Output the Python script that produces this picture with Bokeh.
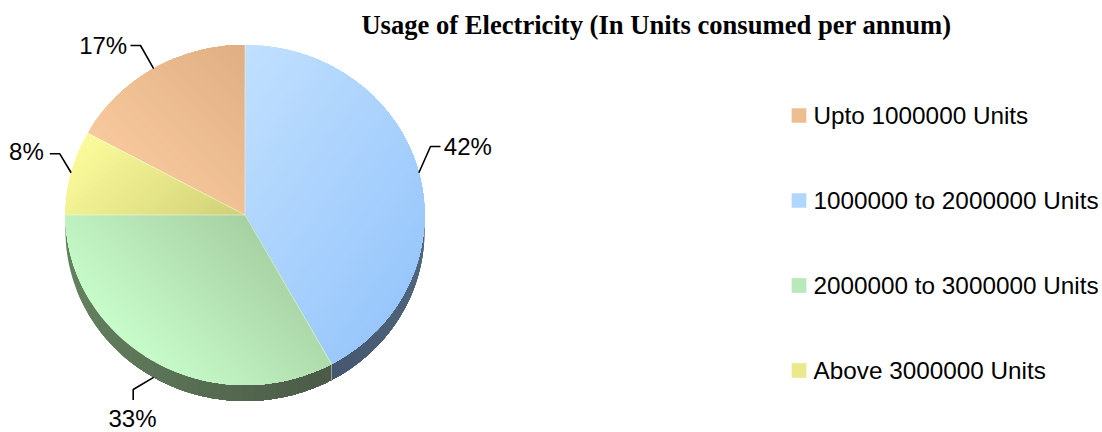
import math
from bokeh.plotting import figure
from bokeh.models import Range1d, ColumnDataSource
from bokeh.embed import file_html
from bokeh.resources import INLINE
from bokeh.core.properties import value

# ---------------- data ----------------
categories = ["Upto 1000000 Units", "1000000 to 2000000 Units",
              "2000000 to 3000000 Units", "Above 3000000 Units"]
shares = [17, 42, 33, 8]
share_labels = ["17%", "42%", "33%", "8%"]
title_text = "Usage of Electricity (In Units consumed per annum)"

# ---------------- style / layout ----------------
light_colors = ["#F8C99D", "#C0E0FE", "#C8FCCB", "#FCFC9C"]
dark_colors = ["#DFAF83", "#99C7FC", "#A6D0A2", "#D0CF76"]
legend_colors = ["#EDBE92", "#B0D6FD", "#B9E8BA", "#EAEA8C"]
rim_light = ["#8A7558", "#53687F", "#64815F", "#85854F"]
rim_dark = ["#6A583E", "#44576F", "#4A5A47", "#65653A"]
grad_dirs = [(1.0, -1.0), (1.0, 0.7), (1.0, -1.0), (1.0, 1.0)]   # screen dirs light -> dark
rim_dirs = [(1.0, 0.0), (-1.0, 0.6), (1.0, 0.0), (1.0, 0.0)]

CX, CY, RX, RY, DEPTH = 244.5, 214.5, 179.5, 170.0, 16.0
FIRST_SLICE_ANGLE = 298.8          # degrees, clockwise from 12 o'clock (Excel style)

TEXT_DY = -8.5                     # baseline correction for the renderer
FONT = "Liberation Sans"
LABEL_POS = [(126.7, 53.3, "right"), (443.3, 154.3, "left"),
             (132.0, 426.5, "center"), (43.3, 159.5, "right")]
LEADER_BEND = [((140.0, 45.0), (130.0, 45.0)), ((430.0, 146.0), (440.0, 146.0)),
               ((132.7, 389.0), (132.7, 399.5)), ((59.3, 153.3), (49.3, 153.3))]
LEGEND_X, LEGEND_Y0, LEGEND_STEP, LEGEND_BOX = 798.5, 115.0, 85.0, 14.7

W, H = 1102, 432


def hex2rgb(h):
    h = h.lstrip("#")
    return tuple(int(h[i:i + 2], 16) for i in (0, 2, 4))


def lerp_color(a, b, t):
    ca, cb = hex2rgb(a), hex2rgb(b)
    return "#%02x%02x%02x" % tuple(int(round(ca[i] + (cb[i] - ca[i]) * t)) for i in range(3))


def ept(t, dy=0.0):
    return (CX + RX * math.cos(t), CY - RY * math.sin(t) + dy)


def clip_half(poly, g, c):
    out = []
    n = len(poly)
    for i in range(n):
        P, Q = poly[i], poly[(i + 1) % n]
        dp = P[0] * g[0] + P[1] * g[1] - c
        dq = Q[0] * g[0] + Q[1] * g[1] - c
        if dp >= 0:
            out.append(P)
        if (dp >= 0) != (dq >= 0):
            t = dp / (dp - dq)
            out.append((P[0] + t * (Q[0] - P[0]), P[1] + t * (Q[1] - P[1])))
    return out


def gradient_bands(poly, g, c_light, c_dark, n=36):
    gl = math.hypot(*g)
    g = (g[0] / gl, g[1] / gl)
    proj = [x * g[0] + y * g[1] for x, y in poly]
    s0, s1 = min(proj), max(proj)
    xs, ys, cs = [], [], []
    for i in range(n):
        c = s0 + (s1 - s0) * i / n
        part = clip_half(poly, g, c) if i > 0 else poly
        if len(part) < 3:
            continue
        xs.append([q[0] for q in part])
        ys.append([q[1] for q in part])
        cs.append(lerp_color(c_light, c_dark, (i + 0.5) / n))
    return xs, ys, cs


total = float(sum(shares))
fracs = [v / total for v in shares]
start0 = math.pi / 2 - math.radians(FIRST_SLICE_ANGLE)
bounds = []
s = start0
for f in fracs:
    e = s - 2 * math.pi * f
    bounds.append((s, e))
    s = e

p = figure(width=W, height=H, x_range=Range1d(0, W), y_range=Range1d(H, 0),
           toolbar_location=None, output_backend="svg", min_border=0,
           x_axis_type=None, y_axis_type=None, outline_line_color=None,
           background_fill_color="white", border_fill_color="white")
for gr in p.grid:
    gr.visible = False

# ---- side wall (3D rim) on front half ----
rim_x, rim_y, rim_c = [], [], []
rim_sep_x, rim_sep_y = [], []
for i, (s, e) in enumerate(bounds):
    for k in (-2, -1, 0, 1):
        lo = max(e, -math.pi + 2 * math.pi * k)
        hi = min(s, 2 * math.pi * k)
        if hi - lo > 1e-6:
            n = max(6, int((hi - lo) * 60))
            top = [ept(hi - (hi - lo) * j / n) for j in range(n + 1)]
            bot = [ept(hi - (hi - lo) * j / n, DEPTH) for j in range(n + 1)][::-1]
            xs, ys, cs = gradient_bands(top + bot, rim_dirs[i], rim_light[i], rim_dark[i], 24)
            rim_x += xs
            rim_y += ys
            rim_c += cs
    # boundary edge on the rim
    if math.sin(e) < -1e-6:
        x0, y0 = ept(e)
        rim_sep_x.append([x0, x0])
        rim_sep_y.append([y0, y0 + DEPTH])
p.patches(xs="xs", ys="ys", fill_color="c", line_color=None,
          source=ColumnDataSource(dict(xs=rim_x, ys=rim_y, c=rim_c)))
p.multi_line(rim_sep_x, rim_sep_y, line_color="#9AA890", line_width=1.0)

# ---- top faces with gradients ----
top_x, top_y, top_c = [], [], []
for i, (s, e) in enumerate(bounds):
    n = max(8, int((s - e) * 80))
    poly = [(CX, CY)] + [ept(s - (s - e) * j / n) for j in range(n + 1)]
    xs, ys, cs = gradient_bands(poly, grad_dirs[i], light_colors[i], dark_colors[i], 40)
    top_x += xs
    top_y += ys
    top_c += cs
p.patches(xs="xs", ys="ys", fill_color="c", line_color=None,
          source=ColumnDataSource(dict(xs=top_x, ys=top_y, c=top_c)))

# separators between slices
sep_x, sep_y = [], []
for s, e in bounds:
    x1, y1 = ept(s)
    sep_x.append([CX, x1])
    sep_y.append([CY, y1])
p.multi_line(sep_x, sep_y, line_color="white", line_alpha=0.55, line_width=0.8)

# ---- leader lines and percentage labels ----
ld_x, ld_y = [], []
for i, (s, e) in enumerate(bounds):
    mid = (s + e) / 2
    sx, sy = ept(mid, DEPTH if math.sin(mid) < -0.3 else 0.0)
    (bx, by), (ex, ey) = LEADER_BEND[i]
    ld_x.append([sx, bx, ex])
    ld_y.append([sy, by, ey])
p.multi_line(ld_x, ld_y, line_color="black", line_width=1.6)

for i, lab in enumerate(share_labels):
    lx, ly, al = LABEL_POS[i]
    p.text(x=[lx], y=[ly + TEXT_DY], text=[lab], text_font=value(FONT), text_font_size="24px",
           text_align=al, text_baseline="alphabetic", text_color="black")

# ---- legend ----
leg_y = [LEGEND_Y0 + LEGEND_STEP * i for i in range(len(categories))]
p.rect(x=[LEGEND_X] * len(categories), y=leg_y, width=LEGEND_BOX, height=LEGEND_BOX,
       fill_color=legend_colors, line_color=None)
p.text(x=[LEGEND_X + 14.5] * len(categories), y=[v + 8.3 + TEXT_DY for v in leg_y],
       text=categories, text_font=value(FONT), text_font_size="24.3px", text_align="left",
       text_baseline="alphabetic", text_color="black")

# ---- title ----
p.text(x=[656.0], y=[33.0 + TEXT_DY], text=[title_text], text_font=value("Liberation Serif"),
       text_font_size="26.6px", text_font_style="bold", text_align="center",
       text_baseline="alphabetic", text_color="black")

open("out.html", "w").write(file_html(p, INLINE))
